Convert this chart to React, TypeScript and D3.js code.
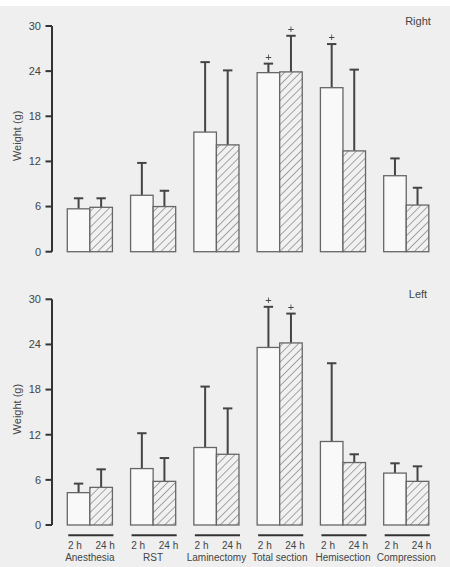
import React from "react";
import * as d3 from "d3";

// groups along the x axis, two time points each
const groups = ["Anesthesia", "RST", "Laminectomy", "Total section", "Hemisection", "Compression"];
const times = ["2 h", "24 h"];
const yTicks = [0, 6, 12, 18, 24, 30];

// right side: mean weight and mean + SD
const rightMean2h = [5.7, 7.5, 15.9, 23.8, 21.8, 10.1];
const rightErr2h = [7.1, 11.8, 25.2, 25.0, 27.6, 12.4];
const rightMean24h = [5.9, 6.0, 14.2, 23.9, 13.4, 6.2];
const rightErr24h = [7.1, 8.1, 24.1, 28.7, 24.2, 8.5];
const rightSig2h = [false, false, false, true, true, false];
const rightSig24h = [false, false, false, true, false, false];

// left side
const leftMean2h = [4.3, 7.5, 10.3, 23.6, 11.1, 6.9];
const leftErr2h = [5.5, 12.2, 18.4, 29.0, 21.5, 8.2];
const leftMean24h = [5.0, 5.8, 9.4, 24.2, 8.3, 5.8];
const leftErr24h = [7.4, 8.9, 15.5, 28.1, 9.4, 7.8];
const leftSig2h = [false, false, false, true, false, false];
const leftSig24h = [false, false, false, true, false, false];

const W = 450;
const H = 567;
const font = "'Liberation Sans', Arial, sans-serif";
const textColor = "#444";

const x = d3.scaleBand<string>().domain(groups).range([67.3, 428.8]).paddingInner(0.287).paddingOuter(0);
const xInner = d3.scaleBand<string>().domain(times).range([0, x.bandwidth()]);

type PanelProps = {
  label: string;
  top: number;
  bottom: number;
  mean2h: number[];
  err2h: number[];
  mean24h: number[];
  err24h: number[];
  sig2h: boolean[];
  sig24h: boolean[];
};

function Panel(p: PanelProps) {
  const y = d3.scaleLinear().domain([0, 30]).range([p.bottom, p.top]);
  const rows = groups.map((g, i) => ({
    g,
    vals: [
      { t: "2 h", mean: p.mean2h[i], err: p.err2h[i], sig: p.sig2h[i] },
      { t: "24 h", mean: p.mean24h[i], err: p.err24h[i], sig: p.sig24h[i] },
    ],
  }));
  const bw = xInner.bandwidth();
  return (
    <g>
      {/* y axis */}
      <line x1={52} x2={52} y1={y(30)} y2={y(0)} stroke="#333" strokeWidth={2} />
      {yTicks.map((t) => (
        <g key={t} transform={`translate(0,${y(t)})`}>
          <line x1={45.5} x2={52} stroke="#333" strokeWidth={2} />
          <text x={41} dy="0.35em" textAnchor="end" fontSize={11} fill={textColor} fontFamily={font}>
            {t}
          </text>
        </g>
      ))}
      <text
        transform={`translate(21,${(y(0) + y(30)) / 2 - 3}) rotate(-90)`}
        textAnchor="middle"
        fontSize={11}
        fill={textColor}
        fontFamily={font}
      >
        Weight (g)
      </text>
      <text x={418} y={p.top - 1} textAnchor="middle" fontSize={11} fill={textColor} fontFamily={font}>
        {p.label}
      </text>
      {rows.map((r) => {
        const gx = x(r.g)!;
        return (
          <g key={r.g}>
            {r.vals.map((v) => {
              const bx = gx + xInner(v.t)!;
              const cx = bx + bw / 2;
              return (
                <g key={v.t}>
                  <line x1={cx} x2={cx} y1={y(v.mean)} y2={y(v.err)} stroke="#444" strokeWidth={2} />
                  <line x1={cx - 4.7} x2={cx + 4.7} y1={y(v.err)} y2={y(v.err)} stroke="#444" strokeWidth={2} />
                  <rect
                    x={bx}
                    y={y(v.mean)}
                    width={bw}
                    height={y(0) - y(v.mean)}
                    fill={v.t === "2 h" ? "#f9f9f9" : "url(#hatch)"}
                    stroke="#666"
                    strokeWidth={1.3}
                  />
                  {/* significance marker, drawn through a no-op filter so it gets grayscale antialiasing */}
                  {v.sig && (
                    <text
                      x={cx}
                      y={y(v.err) - 3}
                      textAnchor="middle"
                      fontSize={11}
                      fill={textColor}
                      fontFamily={font}
                      filter="url(#flat)"
                    >
                      +
                    </text>
                  )}
                </g>
              );
            })}
          </g>
        );
      })}
    </g>
  );
}

export default function App() {
  const bw = x.bandwidth();
  return (
    <svg width={W} height={H} style={{ position: "absolute", left: 0, top: 0, display: "block" }}>
      <defs>
        <pattern id="hatch" patternUnits="userSpaceOnUse" width={5.6} height={5.6} patternTransform="rotate(45)">
          <rect width={5.6} height={5.6} fill="#f1f1f1" />
          <line x1={0} y1={0} x2={0} y2={5.6} stroke="#555" strokeWidth={1} />
        </pattern>
        <filter id="flat">
          <feOffset dx={0} dy={0} />
        </filter>
      </defs>
      <rect x={0} y={0} width={W} height={H} fill="#fff" />
      <rect x={0} y={6} width={W} height={H - 6} fill="#efefef" />
      <Panel
        label="Right"
        top={26}
        bottom={251.7}
        mean2h={rightMean2h}
        err2h={rightErr2h}
        mean24h={rightMean24h}
        err24h={rightErr24h}
        sig2h={rightSig2h}
        sig24h={rightSig24h}
      />
      <Panel
        label="Left"
        top={299.3}
        bottom={525}
        mean2h={leftMean2h}
        err2h={leftErr2h}
        mean24h={leftMean24h}
        err24h={leftErr24h}
        sig2h={leftSig2h}
        sig24h={leftSig24h}
      />
      {/* group labels under the lower panel */}
      {groups.map((g) => (
        <g key={g} transform={`translate(${x(g)},0)`}>
          <line x1={1} x2={bw + 1} y1={535.3} y2={535.3} stroke="#333" strokeWidth={2} />
          <text x={bw * 0.17} y={549} textAnchor="middle" fontSize={10} fill={textColor} fontFamily={font}>
            2 h
          </text>
          <text x={bw * 0.84} y={549} textAnchor="middle" fontSize={10} fill={textColor} fontFamily={font}>
            24 h
          </text>
          <text x={bw / 2} y={561} textAnchor="middle" fontSize={10} fill={textColor} fontFamily={font}>
            {g}
          </text>
        </g>
      ))}
    </svg>
  );
}
